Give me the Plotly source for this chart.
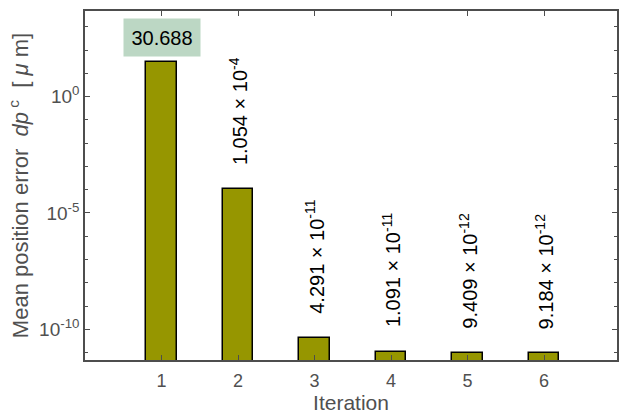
import numpy as np
import plotly.graph_objects as go

iterations = [1, 2, 3, 4, 5, 6]
errors = [30.688, 1.054e-4, 4.291e-11, 1.091e-11, 9.409e-12, 9.184e-12]
mantissas = ["30.688", "1.054", "4.291", "1.091", "9.409", "9.184"]
exponents = [None, -4, -11, -11, -12, -12]
y_tickvals = [1e-10, 1e-5, 1]
y_ticktext = ["10<sup>-10</sup>", "10<sup>-5</sup>", "10<sup>0</sup>"]
y_minor = [10.0**k for k in range(-11, 4) if k % 5 != 0]

FONT = "Liberation Sans, Arial, Helvetica, sans-serif"
AXC = "#4d4d4d"
TXC = "#505050"

fig = go.Figure()
fig.add_trace(go.Bar(
    x=iterations, y=errors, width=0.4,
    marker=dict(color="#969600", line=dict(color="black", width=1.5)),
))

for xi, v, m, e in zip(iterations, errors, mantissas, exponents):
    if e is None:
        fig.add_annotation(x=xi, y=np.log10(v) + 0.22, xref="x", yref="y",
                           text=m, showarrow=False, yanchor="bottom", xanchor="center",
                           font=dict(family=FONT, size=20, color="black"),
                           bgcolor="#bcd7c4", width=72, height=33, borderpad=2)
    else:
        fig.add_annotation(x=xi, y=np.log10(v) + 0.95, xref="x", yref="y",
                           text=f"{m} \u00d7 10<sup>{e}</sup>", textangle=-90,
                           showarrow=False, yanchor="bottom", xanchor="center",
                           font=dict(family=FONT, size=20, color="black"))

fig.update_layout(
    width=620, height=414,
    margin=dict(l=85, r=1, t=11, b=54),
    paper_bgcolor="white", plot_bgcolor="white",
    showlegend=False, bargap=0,
    font=dict(family=FONT, color=TXC),
)
fig.update_xaxes(
    range=[0, 6.953], tickvals=iterations, ticktext=[str(i) for i in iterations],
    ticks="inside", ticklen=5, tickwidth=1, tickcolor=AXC,
    showline=True, linecolor=AXC, linewidth=1.5, mirror="ticks",
    showgrid=False, zeroline=False, ticklabelstandoff=4,
    tickfont=dict(size=18, color=TXC),
    title=dict(text="Iteration", font=dict(size=21, color=TXC), standoff=2),
)
fig.update_yaxes(
    type="log", range=[-11.32, 3.68],
    tickvals=y_tickvals, ticktext=y_ticktext,
    ticks="inside", ticklen=5, tickwidth=1, tickcolor=AXC,
    minor=dict(tickvals=y_minor, ticks="inside", ticklen=3, tickcolor=AXC, showgrid=False),
    showline=True, linecolor=AXC, linewidth=1.5, mirror="ticks",
    showgrid=False, zeroline=False,
    tickfont=dict(size=19, color=TXC),
    title=dict(text="Mean position error  <i>dp</i><sup> c</sup>  [ <i>\u03bc</i> m]",
               font=dict(size=22, color=TXC), standoff=4),
)

fig.write_html("out.html")
